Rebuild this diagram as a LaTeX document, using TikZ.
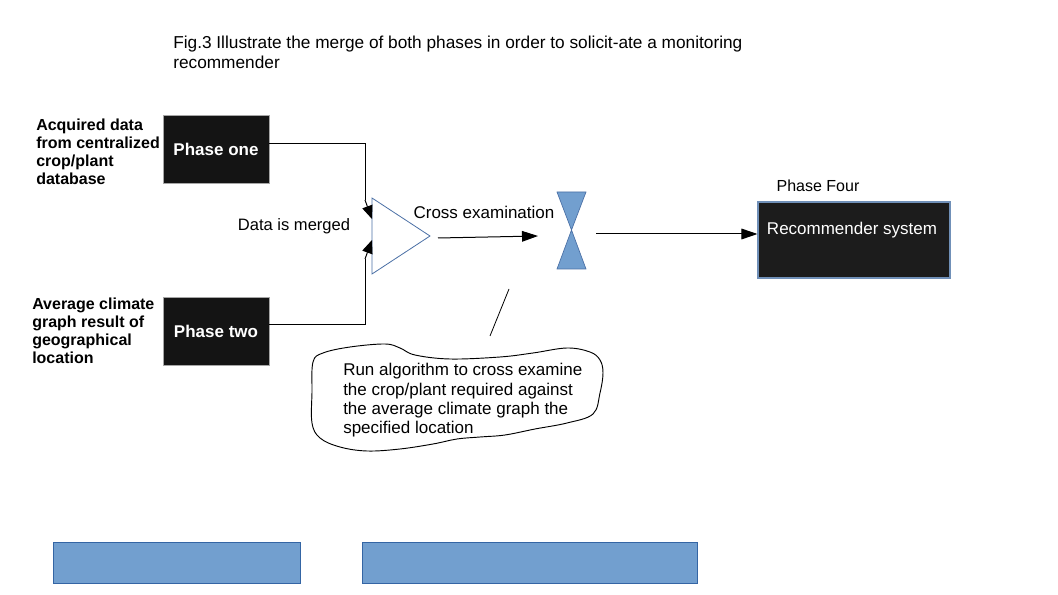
\documentclass[tikz,border=0pt]{standalone}
\usepackage{fontspec}
\setmainfont{Liberation Sans}
\usetikzlibrary{arrows.meta}
\definecolor{boxblack}{HTML}{141414}
\definecolor{recblack}{HTML}{1C1C1C}
\definecolor{lightblue}{HTML}{729FCF}
\definecolor{edgeblue}{HTML}{3465A4}
\definecolor{triblue}{HTML}{4A6FA5}
\definecolor{recedge}{HTML}{7090B8}
\tikzset{
  phasebox/.style={draw=gray!70, fill=boxblack, text=white, font=\fontsize{12.75}{15}\selectfont\bfseries, minimum width=106*0.75pt, minimum height=68*0.75pt, inner sep=0pt},
  lbl/.style={inner sep=0pt, anchor=base west, align=left},
  conn/.style={draw=black, line width=0.75pt},
  arr/.style={conn, -{Triangle[length=12pt,width=8pt]}},
  marr/.style={conn, -{Triangle[length=10pt,width=8pt]}},
  bluebar/.style={draw=edgeblue, fill=lightblue, line width=0.5pt},
}
\begin{document}
\begin{tikzpicture}[x=0.75pt,y=-0.75pt]
\useasboundingbox (0,0) rectangle (1058,595);
% caption
\node[lbl, font=\fontsize{12.95}{15}\selectfont] (cap) at (173,69) {Fig.3 Illustrate the merge of both phases in order to solicit-ate a monitoring\\recommender};
% phase boxes
\node[phasebox] (p1) at (216,149) {Phase one};
\node[phasebox] (p2) at (216,331) {Phase two};
% side labels
\node[lbl, font=\fontsize{12}{13.5}\selectfont\bfseries] (l1) at (36,185) {Acquired data\\from centralized\\crop/plant\\database};
\node[lbl, font=\fontsize{12}{13.5}\selectfont\bfseries] (l2) at (32,364) {Average climate\\graph result of\\geographical\\location};
\node[inner sep=0pt, font=\fontsize{12.4}{15}\selectfont] (dm) at (294,226) {Data is merged};
% merge triangle
\coordinate (ta) at (372,198);
\coordinate (tb) at (372,274);
\coordinate (tc) at (430,236);
\draw[triblue, fill=white, line width=0.6pt] (ta) -- (tc) -- (tb) -- cycle;
\coordinate (in1) at (372,219);
\coordinate (in2) at (372,240);
\coordinate (k1) at (365,144);
\coordinate (k1b) at (365,200);
\coordinate (k2) at (365,325);
\coordinate (k2b) at (365,259);
\draw[conn] (p1.east |- k1) -- (k1) -- (k1b);
\draw[marr] (k1b) -- (in1);
\draw[conn] (p2.east |- k2) -- (k2) -- (k2b);
\draw[marr] (k2b) -- (in2);
% cross examination
\node[inner sep=0pt, font=\fontsize{12.75}{15}\selectfont] (ce) at (484,212) {Cross examination};
\coordinate (tout) at (438,238);
% hourglass
\coordinate (hc) at (571.5,230);
\draw[bluebar, draw=triblue] (557,192) -- (586,192) -- (hc) -- cycle;
\draw[bluebar, draw=triblue] (hc) -- (586,269) -- (557,269) -- cycle;
\coordinate (hin) at (538,236);
\coordinate (hout) at (596,234);
\draw[arr] (tout) -- (hin);
% recommender
\node[draw=recedge, fill=recblack, line width=0.8pt, minimum width=192*0.75pt, minimum height=76*0.75pt, inner sep=0pt] (rec) at (854,240) {};
\node[inner sep=0pt, text=white, font=\fontsize{12.75}{15}\selectfont] (rect) at (852,230) {Recommender system};
\node[inner sep=0pt, font=\fontsize{12}{14}\selectfont] (p4) at (818,186) {Phase Four};
\draw[arr] (hout) -- (rec.west |- hout);
% callout line
\coordinate (c1) at (509,289);
\coordinate (c2) at (490,336);
\draw[conn, line width=0.6pt] (c1) -- (c2);
% cloud
\draw[line width=0.7pt] plot[smooth cycle, tension=0.6] coordinates {
(313,362) (312,392) (312,423) (320,438) (340,447) (367,451) (400,449) (433,444) (457,439) (480,437) (505,435) (535,429) (567,423) (593,414) (600,393) (603,373) (600,360) (590,352) (567,348) (533,353) (500,357) (450,359) (415,355) (400,348) (385,344) (350,347) (323,353)};
\node[lbl, font=\fontsize{12.75}{14.6}\selectfont] (ct) at (343,434) {Run algorithm to cross examine\\the crop/plant required against\\the average climate graph the\\specified location};
% bottom bars
\node[bluebar, minimum width=247*0.75pt, minimum height=41*0.75pt, inner sep=0pt] (b1) at (176.5,562.5) {};
\node[bluebar, minimum width=335*0.75pt, minimum height=41*0.75pt, inner sep=0pt] (b2) at (529.5,562.5) {};
\end{tikzpicture}
\end{document}
